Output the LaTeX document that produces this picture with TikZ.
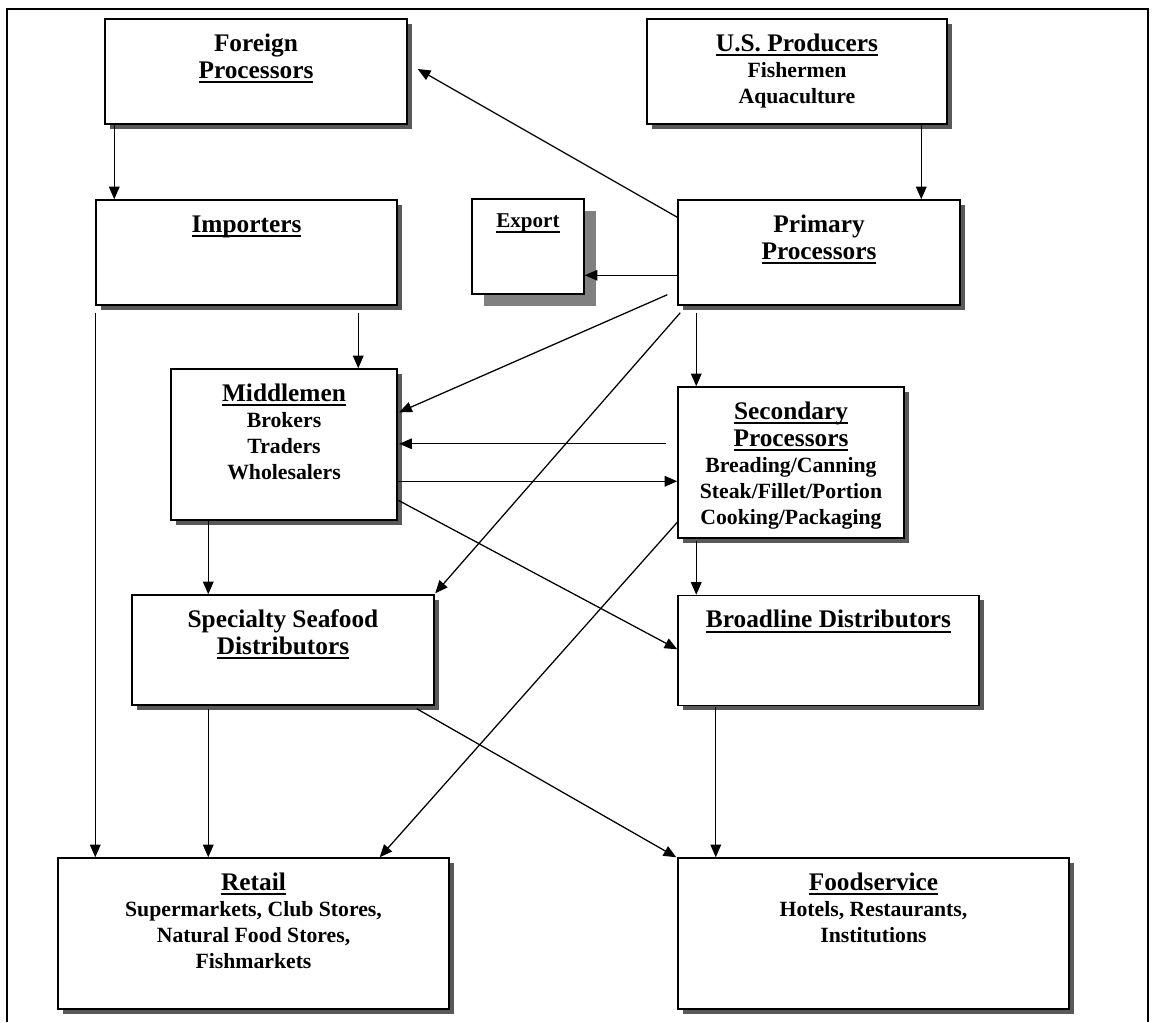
\documentclass[tikz,border=0pt]{standalone}
\usepackage{fontspec}
\setmainfont{Liberation Serif}
\usepackage{tikz}
\usetikzlibrary{arrows.meta,calc,shadows}
\newdimen\pxu \pxu=0.75pt
\newcommand{\boxtext}[3]{\parbox[c][#2\pxu][t]{#1\pxu}{\centering\vspace*{9.65pt}\strut #3}}
\newcommand{\headul}[1]{\leavevmode\sbox0{#1}\rlap{\rule[-3.8pt]{\wd0}{1.5pt}}\usebox0}
\newcommand{\detail}{\fontsize{16.3}{19.5}\selectfont}
\tikzset{
  flowbox/.style={draw=black,line width=1.1pt,fill=white,inner sep=0pt,general shadow={fill=black!65,shadow xshift=3.5pt,shadow yshift=-3.5pt},font=\fontsize{19}{20.5}\selectfont\bfseries},
  exportbox/.style={draw=black,line width=1.1pt,fill=white,inner sep=0pt,general shadow={fill=black!50,shadow xshift=9pt,shadow yshift=-9pt},font=\fontsize{15.8}{17}\selectfont\bfseries},
  flowarrow/.style={-{Triangle[length=9.5pt,width=8pt]},line width=0.95pt},
  framerule/.style={line width=1.5pt}
}
\begin{document}
\begin{tikzpicture}[x=0.75pt,y=-0.75pt]
\useasboundingbox (0,0) rectangle (1154,1022);
\draw[framerule] (7,1022)--(7,9)--(1148,9)--(1148,1022);
\node[flowbox] (forproc) at (256,71.5) {\boxtext{302}{105}{Foreign\\\headul{Processors}}};
\node[flowbox] (usprod) at (797,71.5) {\boxtext{300}{105}{\headul{U.S. Producers}\\\detail Fishermen\\Aquaculture}};
\node[flowbox] (importers) at (246.5,252.5) {\boxtext{301}{105}{\headul{Importers}}};
\node[exportbox] (export) at (528,246.5) {\boxtext{112}{95}{\headul{Export}}};
\node[flowbox] (primary) at (819,252.5) {\boxtext{282}{105}{Primary\\\headul{Processors}}};
\node[flowbox] (middlemen) at (284,444.5) {\boxtext{226}{151}{\headul{Middlemen}\\\detail Brokers\\Traders\\Wholesalers}};
\node[flowbox] (secondary) at (791,462.5) {\boxtext{226}{151}{\headul{Secondary}\\\headul{Processors}\\\detail Breading/Canning\\Steak/Fillet/Portion\\Cooking/Packaging}};
\node[flowbox] (specialty) at (283,650) {\boxtext{302}{110}{Specialty Seafood\\\headul{Distributors}}};
\node[flowbox] (broadline) at (828.5,650.5) {\boxtext{301}{110}{\headul{Broadline Distributors}}};
\node[flowbox] (retail) at (253.5,933.5) {\boxtext{391}{151}{\headul{Retail}\\\detail Supermarkets, Club Stores,\\Natural Food Stores,\\Fishmarkets}};
\node[flowbox] (foodsvc) at (873.5,933.5) {\boxtext{391}{151}{\headul{Foodservice}\\\detail Hotels, Restaurants,\\Institutions}};
\draw[flowarrow] ($(primary.north west)+(0,18)$) -- ($(forproc.east)+(10,-2.5)$);
\draw[flowarrow] ($(usprod.south west)+(275,0)$) -- ($(primary.north west)+(244,0)$);
\draw[flowarrow] ($(forproc.south west)+(10,0)$) -- ($(importers.north west)+(19,0)$);
\draw[flowarrow] ($(primary.north west)+(0,76)$) -- ($(export.north east)+(0,77)$);
\draw[flowarrow] ($(importers.south west)+(0,7)$) -- ($(retail.north west)+(38,0)$);
\draw[flowarrow] ($(importers.south west)+(263,7)$) -- ($(middlemen.north west)+(188,0)$);
\draw[flowarrow] ($(primary.south west)+(-10,-11)$) -- ($(middlemen.north east)+(1.5,44)$);
\draw[flowarrow] ($(primary.south west)+(3,7)$) -- ($(specialty.north east)+(0.5,-1)$);
\draw[flowarrow] ($(primary.south west)+(19,7)$) -- ($(secondary.north west)+(19,0)$);
\draw[flowarrow] ($(secondary.north west)+(-11,57.5)$) -- ($(middlemen.north east)+(1.5,75.5)$);
\draw[flowarrow] ($(middlemen.north east)+(0,113)$) -- ($(secondary.north west)+(0,95)$);
\draw[flowarrow] ($(middlemen.north east)+(0.5,132)$) -- ($(broadline.north west)+(0,54.5)$);
\draw[flowarrow] ($(secondary.south west)+(0.5,-17)$) -- ($(retail.north east)+(-70,0)$);
\draw[flowarrow] ($(secondary.south west)+(19,2)$) -- ($(broadline.north west)+(19,0)$);
\draw[flowarrow] ($(middlemen.south west)+(38,0)$) -- ($(specialty.north west)+(77,0)$);
\draw[flowarrow] ($(specialty.south west)+(77,3)$) -- ($(retail.north west)+(151,0)$);
\draw[flowarrow] ($(specialty.south east)+(-18,3)$) -- ($(foodsvc.north west)+(-1,0)$);
\draw[flowarrow] ($(broadline.south west)+(38.5,1)$) -- ($(foodsvc.north west)+(38.5,0)$);
\end{tikzpicture}
\end{document}
